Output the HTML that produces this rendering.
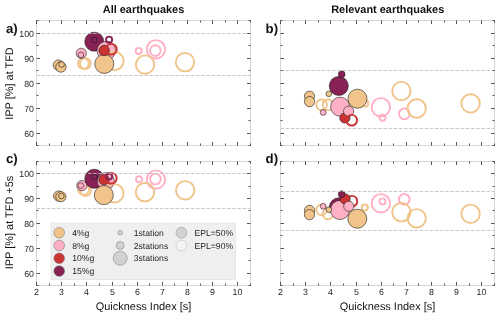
<!DOCTYPE html>
<html lang="en"><head><meta charset="utf-8"><title>IPP vs Quickness Index</title>
<style>html,body{margin:0;padding:0;background:#fff;}body{width:500px;height:317px;overflow:hidden;}svg{display:block;font-family:"Liberation Sans", Arial, Helvetica, sans-serif;will-change:transform;text-rendering:geometricPrecision;}.tk{font-size:8.8px;fill:#262626;}.lb{font-size:10.95px;fill:#111;}.ti{font-size:10.95px;font-weight:bold;fill:#111;}.pn{font-size:13.2px;font-weight:bold;fill:#111;}.lg{font-size:8.6px;fill:#262626;}</style></head><body>
<svg width="500" height="317" viewBox="0 0 500 317">
<rect x="0" y="0" width="500" height="317" fill="#ffffff"/>
<g id="panel-a">
<circle cx="58.30" cy="65.10" r="5.12" fill="#F0C48A" stroke="#1c1c1c" stroke-width="0.6"/>
<circle cx="60.90" cy="67.00" r="5.22" fill="#F0C48A" stroke="#1c1c1c" stroke-width="0.6"/>
<circle cx="61.60" cy="64.50" r="2.82" fill="#F0C48A" stroke="#1c1c1c" stroke-width="0.6"/>
<circle cx="83.40" cy="63.50" r="5.40" fill="none" stroke="#F0C48A" stroke-width="1.9"/>
<circle cx="85.40" cy="63.50" r="5.40" fill="none" stroke="#F0C48A" stroke-width="1.9"/>
<circle cx="81.30" cy="53.30" r="5.12" fill="#FFB0C4" stroke="#1c1c1c" stroke-width="0.6"/>
<circle cx="80.90" cy="54.90" r="2.82" fill="#FFB0C4" stroke="#1c1c1c" stroke-width="0.6"/>
<circle cx="94.30" cy="41.70" r="9.52" fill="#882255" stroke="#1c1c1c" stroke-width="0.6"/>
<circle cx="94.30" cy="40.10" r="2.82" fill="#882255" stroke="#1c1c1c" stroke-width="0.6"/>
<circle cx="106.30" cy="50.60" r="9.32" fill="#FFB0C4" stroke="#1c1c1c" stroke-width="0.6"/>
<circle cx="114.40" cy="61.00" r="9.20" fill="none" stroke="#F0C48A" stroke-width="1.9"/>
<circle cx="104.30" cy="63.90" r="9.52" fill="#F0C48A" stroke="#1c1c1c" stroke-width="0.6"/>
<circle cx="104.15" cy="50.45" r="5.22" fill="#CC3333" stroke="#1c1c1c" stroke-width="0.6"/>
<circle cx="111.40" cy="49.20" r="5.35" fill="none" stroke="#CC3333" stroke-width="1.9"/>
<circle cx="109.10" cy="39.70" r="3.05" fill="none" stroke="#882255" stroke-width="1.9"/>
<circle cx="138.70" cy="50.90" r="3.05" fill="none" stroke="#FFB0C4" stroke-width="1.9"/>
<circle cx="155.90" cy="49.30" r="9.20" fill="none" stroke="#FFB0C4" stroke-width="1.9"/>
<circle cx="155.30" cy="50.60" r="5.35" fill="none" stroke="#FFB0C4" stroke-width="1.9"/>
<circle cx="145.10" cy="64.60" r="9.20" fill="none" stroke="#F0C48A" stroke-width="1.9"/>
<circle cx="185.00" cy="62.20" r="9.20" fill="none" stroke="#F0C48A" stroke-width="1.9"/>
<line x1="36.5" x2="250.5" y1="33.5" y2="33.5" stroke="#bebebe" stroke-opacity="0.85" stroke-width="1" stroke-dasharray="3.5 1.65"/>
<line x1="36.5" x2="250.5" y1="75.5" y2="75.5" stroke="#bebebe" stroke-opacity="0.85" stroke-width="1" stroke-dasharray="3.5 1.65"/>
<rect x="36.5" y="20.5" width="214.0" height="125.0" fill="none" stroke="#d6d6d6" stroke-width="1"/>
<path d="M36.5 145.5v-3.5M36.5 20.5v3.5M49.5 145.5v-2.0M49.5 20.5v2.0M61.5 145.5v-3.5M61.5 20.5v3.5M74.5 145.5v-2.0M74.5 20.5v2.0M86.5 145.5v-3.5M86.5 20.5v3.5M99.5 145.5v-2.0M99.5 20.5v2.0M112.5 145.5v-3.5M112.5 20.5v3.5M124.5 145.5v-2.0M124.5 20.5v2.0M137.5 145.5v-3.5M137.5 20.5v3.5M149.5 145.5v-2.0M149.5 20.5v2.0M162.5 145.5v-3.5M162.5 20.5v3.5M174.5 145.5v-2.0M174.5 20.5v2.0M187.5 145.5v-3.5M187.5 20.5v3.5M200.5 145.5v-2.0M200.5 20.5v2.0M212.5 145.5v-3.5M212.5 20.5v3.5M225.5 145.5v-2.0M225.5 20.5v2.0M237.5 145.5v-3.5M237.5 20.5v3.5M250.5 145.5v-2.0M250.5 20.5v2.0M36.5 145.5h2.0M250.5 145.5h-2.0M36.5 133.5h3.5M250.5 133.5h-3.5M36.5 120.5h2.0M250.5 120.5h-2.0M36.5 108.5h3.5M250.5 108.5h-3.5M36.5 95.5h2.0M250.5 95.5h-2.0M36.5 83.5h3.5M250.5 83.5h-3.5M36.5 70.5h2.0M250.5 70.5h-2.0M36.5 58.5h3.5M250.5 58.5h-3.5M36.5 45.5h2.0M250.5 45.5h-2.0M36.5 33.5h3.5M250.5 33.5h-3.5M36.5 20.5h2.0M250.5 20.5h-2.0" stroke="#404040" stroke-width="0.9" fill="none"/>
<text class="tk" x="34.0" y="36.75" text-anchor="end">100</text>
<text class="tk" x="34.0" y="61.75" text-anchor="end">90</text>
<text class="tk" x="34.0" y="86.75" text-anchor="end">80</text>
<text class="tk" x="34.0" y="111.75" text-anchor="end">70</text>
<text class="tk" x="34.0" y="136.75" text-anchor="end">60</text>
</g>
<g id="panel-b">
<circle cx="309.50" cy="96.20" r="5.12" fill="#F0C48A" stroke="#1c1c1c" stroke-width="0.6"/>
<circle cx="309.50" cy="101.60" r="5.12" fill="#F0C48A" stroke="#1c1c1c" stroke-width="0.6"/>
<circle cx="321.60" cy="104.80" r="5.35" fill="none" stroke="#F0C48A" stroke-width="1.9"/>
<circle cx="328.00" cy="104.80" r="5.35" fill="none" stroke="#F0C48A" stroke-width="1.9"/>
<circle cx="328.80" cy="93.80" r="2.82" fill="#F0C48A" stroke="#1c1c1c" stroke-width="0.6"/>
<circle cx="338.80" cy="85.90" r="9.52" fill="#882255" stroke="#1c1c1c" stroke-width="0.6"/>
<circle cx="341.70" cy="74.30" r="3.37" fill="#882255" stroke="#1c1c1c" stroke-width="0.6"/>
<circle cx="340.10" cy="106.70" r="9.52" fill="#FFB0C4" stroke="#1c1c1c" stroke-width="0.6"/>
<circle cx="344.90" cy="118.00" r="5.12" fill="#CC3333" stroke="#1c1c1c" stroke-width="0.6"/>
<circle cx="348.60" cy="111.20" r="5.12" fill="#FFB0C4" stroke="#1c1c1c" stroke-width="0.6"/>
<circle cx="351.70" cy="120.20" r="5.35" fill="none" stroke="#CC3333" stroke-width="1.9"/>
<circle cx="323.20" cy="112.40" r="2.92" fill="#FFB0C4" stroke="#1c1c1c" stroke-width="0.6"/>
<circle cx="365.30" cy="103.50" r="3.05" fill="none" stroke="#F0C48A" stroke-width="1.9"/>
<circle cx="357.50" cy="98.70" r="9.52" fill="#F0C48A" stroke="#1c1c1c" stroke-width="0.6"/>
<circle cx="380.90" cy="107.30" r="9.20" fill="none" stroke="#FFB0C4" stroke-width="1.9"/>
<circle cx="382.50" cy="117.70" r="3.05" fill="none" stroke="#FFB0C4" stroke-width="1.9"/>
<circle cx="404.30" cy="113.80" r="5.35" fill="none" stroke="#FFB0C4" stroke-width="1.9"/>
<circle cx="401.40" cy="91.10" r="9.20" fill="none" stroke="#F0C48A" stroke-width="1.9"/>
<circle cx="416.70" cy="108.50" r="9.20" fill="none" stroke="#F0C48A" stroke-width="1.9"/>
<circle cx="470.60" cy="103.40" r="9.20" fill="none" stroke="#F0C48A" stroke-width="1.9"/>
<line x1="280.5" x2="494.5" y1="70.5" y2="70.5" stroke="#bebebe" stroke-opacity="0.85" stroke-width="1" stroke-dasharray="3.5 1.65"/>
<line x1="280.5" x2="494.5" y1="128.5" y2="128.5" stroke="#bebebe" stroke-opacity="0.85" stroke-width="1" stroke-dasharray="3.5 1.65"/>
<rect x="280.5" y="20.5" width="214.0" height="125.0" fill="none" stroke="#d6d6d6" stroke-width="1"/>
<path d="M280.5 145.5v-3.5M280.5 20.5v3.5M293.5 145.5v-2.0M293.5 20.5v2.0M305.5 145.5v-3.5M305.5 20.5v3.5M318.5 145.5v-2.0M318.5 20.5v2.0M330.5 145.5v-3.5M330.5 20.5v3.5M343.5 145.5v-2.0M343.5 20.5v2.0M356.5 145.5v-3.5M356.5 20.5v3.5M368.5 145.5v-2.0M368.5 20.5v2.0M381.5 145.5v-3.5M381.5 20.5v3.5M393.5 145.5v-2.0M393.5 20.5v2.0M406.5 145.5v-3.5M406.5 20.5v3.5M418.5 145.5v-2.0M418.5 20.5v2.0M431.5 145.5v-3.5M431.5 20.5v3.5M444.5 145.5v-2.0M444.5 20.5v2.0M456.5 145.5v-3.5M456.5 20.5v3.5M469.5 145.5v-2.0M469.5 20.5v2.0M481.5 145.5v-3.5M481.5 20.5v3.5M494.5 145.5v-2.0M494.5 20.5v2.0M280.5 145.5h2.0M494.5 145.5h-2.0M280.5 133.5h3.5M494.5 133.5h-3.5M280.5 120.5h2.0M494.5 120.5h-2.0M280.5 108.5h3.5M494.5 108.5h-3.5M280.5 95.5h2.0M494.5 95.5h-2.0M280.5 83.5h3.5M494.5 83.5h-3.5M280.5 70.5h2.0M494.5 70.5h-2.0M280.5 58.5h3.5M494.5 58.5h-3.5M280.5 45.5h2.0M494.5 45.5h-2.0M280.5 33.5h3.5M494.5 33.5h-3.5M280.5 20.5h2.0M494.5 20.5h-2.0" stroke="#404040" stroke-width="0.9" fill="none"/>
</g>
<g id="panel-c">
<circle cx="58.60" cy="196.00" r="5.12" fill="#F0C48A" stroke="#1c1c1c" stroke-width="0.6"/>
<circle cx="60.90" cy="196.70" r="5.12" fill="#F0C48A" stroke="#1c1c1c" stroke-width="0.6"/>
<circle cx="61.40" cy="196.00" r="2.82" fill="#F0C48A" stroke="#1c1c1c" stroke-width="0.6"/>
<circle cx="83.60" cy="189.60" r="5.40" fill="none" stroke="#F0C48A" stroke-width="1.9"/>
<circle cx="85.70" cy="190.60" r="5.40" fill="none" stroke="#F0C48A" stroke-width="1.9"/>
<circle cx="81.80" cy="185.60" r="5.12" fill="#FFB0C4" stroke="#1c1c1c" stroke-width="0.6"/>
<circle cx="80.80" cy="185.60" r="2.82" fill="#FFB0C4" stroke="#1c1c1c" stroke-width="0.6"/>
<circle cx="94.30" cy="178.70" r="9.52" fill="#882255" stroke="#1c1c1c" stroke-width="0.6"/>
<circle cx="94.30" cy="176.90" r="2.82" fill="#882255" stroke="#1c1c1c" stroke-width="0.6"/>
<circle cx="105.90" cy="181.20" r="8.52" fill="#FFB0C4" stroke="#1c1c1c" stroke-width="0.6"/>
<circle cx="114.40" cy="193.30" r="9.20" fill="none" stroke="#F0C48A" stroke-width="1.9"/>
<circle cx="103.80" cy="195.10" r="9.52" fill="#F0C48A" stroke="#1c1c1c" stroke-width="0.6"/>
<circle cx="104.00" cy="179.70" r="5.12" fill="#CC3333" stroke="#1c1c1c" stroke-width="0.6"/>
<circle cx="111.30" cy="178.20" r="5.35" fill="none" stroke="#CC3333" stroke-width="1.9"/>
<circle cx="109.10" cy="176.60" r="3.05" fill="none" stroke="#882255" stroke-width="1.9"/>
<circle cx="139.00" cy="179.30" r="3.05" fill="none" stroke="#FFB0C4" stroke-width="1.9"/>
<circle cx="155.90" cy="179.60" r="9.20" fill="none" stroke="#FFB0C4" stroke-width="1.9"/>
<circle cx="155.40" cy="179.00" r="5.35" fill="none" stroke="#FFB0C4" stroke-width="1.9"/>
<circle cx="145.00" cy="192.20" r="9.20" fill="none" stroke="#F0C48A" stroke-width="1.9"/>
<circle cx="185.20" cy="190.30" r="9.20" fill="none" stroke="#F0C48A" stroke-width="1.9"/>
<line x1="36.5" x2="250.5" y1="173.5" y2="173.5" stroke="#bebebe" stroke-opacity="0.85" stroke-width="1" stroke-dasharray="3.5 1.65"/>
<line x1="36.5" x2="250.5" y1="208.5" y2="208.5" stroke="#bebebe" stroke-opacity="0.85" stroke-width="1" stroke-dasharray="3.5 1.65"/>
<rect x="36.5" y="161.5" width="214.0" height="124.0" fill="none" stroke="#d6d6d6" stroke-width="1"/>
<path d="M36.5 285.5v-3.5M36.5 161.5v3.5M49.5 285.5v-2.0M49.5 161.5v2.0M61.5 285.5v-3.5M61.5 161.5v3.5M74.5 285.5v-2.0M74.5 161.5v2.0M86.5 285.5v-3.5M86.5 161.5v3.5M99.5 285.5v-2.0M99.5 161.5v2.0M112.5 285.5v-3.5M112.5 161.5v3.5M124.5 285.5v-2.0M124.5 161.5v2.0M137.5 285.5v-3.5M137.5 161.5v3.5M149.5 285.5v-2.0M149.5 161.5v2.0M162.5 285.5v-3.5M162.5 161.5v3.5M174.5 285.5v-2.0M174.5 161.5v2.0M187.5 285.5v-3.5M187.5 161.5v3.5M200.5 285.5v-2.0M200.5 161.5v2.0M212.5 285.5v-3.5M212.5 161.5v3.5M225.5 285.5v-2.0M225.5 161.5v2.0M237.5 285.5v-3.5M237.5 161.5v3.5M250.5 285.5v-2.0M250.5 161.5v2.0M36.5 285.5h2.0M250.5 285.5h-2.0M36.5 273.5h3.5M250.5 273.5h-3.5M36.5 260.5h2.0M250.5 260.5h-2.0M36.5 248.5h3.5M250.5 248.5h-3.5M36.5 235.5h2.0M250.5 235.5h-2.0M36.5 223.5h3.5M250.5 223.5h-3.5M36.5 210.5h2.0M250.5 210.5h-2.0M36.5 198.5h3.5M250.5 198.5h-3.5M36.5 186.5h2.0M250.5 186.5h-2.0M36.5 173.5h3.5M250.5 173.5h-3.5M36.5 161.5h2.0M250.5 161.5h-2.0" stroke="#404040" stroke-width="0.9" fill="none"/>
<text class="tk" x="34.0" y="176.75" text-anchor="end">100</text>
<text class="tk" x="34.0" y="201.75" text-anchor="end">90</text>
<text class="tk" x="34.0" y="226.75" text-anchor="end">80</text>
<text class="tk" x="34.0" y="251.75" text-anchor="end">70</text>
<text class="tk" x="34.0" y="276.75" text-anchor="end">60</text>
<text class="tk" x="36.50" y="295.4" text-anchor="middle">2</text>
<text class="tk" x="61.50" y="295.4" text-anchor="middle">3</text>
<text class="tk" x="86.50" y="295.4" text-anchor="middle">4</text>
<text class="tk" x="112.50" y="295.4" text-anchor="middle">5</text>
<text class="tk" x="137.50" y="295.4" text-anchor="middle">6</text>
<text class="tk" x="162.50" y="295.4" text-anchor="middle">7</text>
<text class="tk" x="187.50" y="295.4" text-anchor="middle">8</text>
<text class="tk" x="212.50" y="295.4" text-anchor="middle">9</text>
<text class="tk" x="237.50" y="295.4" text-anchor="middle">10</text>
</g>
<g id="panel-d">
<circle cx="309.50" cy="210.40" r="5.12" fill="#F0C48A" stroke="#1c1c1c" stroke-width="0.6"/>
<circle cx="309.50" cy="214.70" r="5.12" fill="#F0C48A" stroke="#1c1c1c" stroke-width="0.6"/>
<circle cx="321.60" cy="209.90" r="5.35" fill="none" stroke="#F0C48A" stroke-width="1.9"/>
<circle cx="328.00" cy="213.90" r="5.35" fill="none" stroke="#F0C48A" stroke-width="1.9"/>
<circle cx="323.20" cy="206.30" r="2.92" fill="#FFB0C4" stroke="#1c1c1c" stroke-width="0.6"/>
<circle cx="338.90" cy="207.30" r="9.52" fill="#882255" stroke="#1c1c1c" stroke-width="0.6"/>
<circle cx="339.90" cy="210.00" r="9.52" fill="#FFB0C4" stroke="#1c1c1c" stroke-width="0.6"/>
<circle cx="351.90" cy="201.20" r="5.35" fill="none" stroke="#CC3333" stroke-width="1.9"/>
<circle cx="345.10" cy="198.90" r="5.12" fill="#CC3333" stroke="#1c1c1c" stroke-width="0.6"/>
<circle cx="341.70" cy="194.20" r="3.37" fill="#882255" stroke="#1c1c1c" stroke-width="0.6"/>
<circle cx="348.80" cy="206.30" r="5.12" fill="#FFB0C4" stroke="#1c1c1c" stroke-width="0.6"/>
<circle cx="328.90" cy="209.70" r="2.82" fill="#F0C48A" stroke="#1c1c1c" stroke-width="0.6"/>
<circle cx="364.80" cy="207.60" r="3.05" fill="none" stroke="#F0C48A" stroke-width="1.9"/>
<circle cx="357.30" cy="218.70" r="9.52" fill="#F0C48A" stroke="#1c1c1c" stroke-width="0.6"/>
<circle cx="380.90" cy="203.30" r="9.20" fill="none" stroke="#FFB0C4" stroke-width="1.9"/>
<circle cx="382.50" cy="201.40" r="3.05" fill="none" stroke="#FFB0C4" stroke-width="1.9"/>
<circle cx="404.30" cy="199.30" r="5.35" fill="none" stroke="#FFB0C4" stroke-width="1.9"/>
<circle cx="401.40" cy="212.20" r="9.20" fill="none" stroke="#F0C48A" stroke-width="1.9"/>
<circle cx="416.70" cy="218.30" r="9.20" fill="none" stroke="#F0C48A" stroke-width="1.9"/>
<circle cx="470.60" cy="213.80" r="9.20" fill="none" stroke="#F0C48A" stroke-width="1.9"/>
<line x1="280.5" x2="494.5" y1="191.5" y2="191.5" stroke="#bebebe" stroke-opacity="0.85" stroke-width="1" stroke-dasharray="3.5 1.65"/>
<line x1="280.5" x2="494.5" y1="230.5" y2="230.5" stroke="#bebebe" stroke-opacity="0.85" stroke-width="1" stroke-dasharray="3.5 1.65"/>
<rect x="280.5" y="161.5" width="214.0" height="124.0" fill="none" stroke="#d6d6d6" stroke-width="1"/>
<path d="M280.5 285.5v-3.5M280.5 161.5v3.5M293.5 285.5v-2.0M293.5 161.5v2.0M305.5 285.5v-3.5M305.5 161.5v3.5M318.5 285.5v-2.0M318.5 161.5v2.0M330.5 285.5v-3.5M330.5 161.5v3.5M343.5 285.5v-2.0M343.5 161.5v2.0M356.5 285.5v-3.5M356.5 161.5v3.5M368.5 285.5v-2.0M368.5 161.5v2.0M381.5 285.5v-3.5M381.5 161.5v3.5M393.5 285.5v-2.0M393.5 161.5v2.0M406.5 285.5v-3.5M406.5 161.5v3.5M418.5 285.5v-2.0M418.5 161.5v2.0M431.5 285.5v-3.5M431.5 161.5v3.5M444.5 285.5v-2.0M444.5 161.5v2.0M456.5 285.5v-3.5M456.5 161.5v3.5M469.5 285.5v-2.0M469.5 161.5v2.0M481.5 285.5v-3.5M481.5 161.5v3.5M494.5 285.5v-2.0M494.5 161.5v2.0M280.5 285.5h2.0M494.5 285.5h-2.0M280.5 273.5h3.5M494.5 273.5h-3.5M280.5 260.5h2.0M494.5 260.5h-2.0M280.5 248.5h3.5M494.5 248.5h-3.5M280.5 235.5h2.0M494.5 235.5h-2.0M280.5 223.5h3.5M494.5 223.5h-3.5M280.5 210.5h2.0M494.5 210.5h-2.0M280.5 198.5h3.5M494.5 198.5h-3.5M280.5 186.5h2.0M494.5 186.5h-2.0M280.5 173.5h3.5M494.5 173.5h-3.5M280.5 161.5h2.0M494.5 161.5h-2.0" stroke="#404040" stroke-width="0.9" fill="none"/>
<text class="tk" x="280.50" y="295.4" text-anchor="middle">2</text>
<text class="tk" x="305.50" y="295.4" text-anchor="middle">3</text>
<text class="tk" x="330.50" y="295.4" text-anchor="middle">4</text>
<text class="tk" x="356.50" y="295.4" text-anchor="middle">5</text>
<text class="tk" x="381.50" y="295.4" text-anchor="middle">6</text>
<text class="tk" x="406.50" y="295.4" text-anchor="middle">7</text>
<text class="tk" x="431.50" y="295.4" text-anchor="middle">8</text>
<text class="tk" x="456.50" y="295.4" text-anchor="middle">9</text>
<text class="tk" x="481.50" y="295.4" text-anchor="middle">10</text>
</g>
<text class="ti" x="143.5" y="13.2" text-anchor="middle">All earthquakes</text>
<text class="ti" x="387.7" y="13.2" text-anchor="middle">Relevant earthquakes</text>
<text class="lb" x="143.5" y="309.7" text-anchor="middle">Quickness Index [s]</text>
<text class="lb" x="387.5" y="309.7" text-anchor="middle">Quickness Index [s]</text>
<text class="lb" transform="translate(12.9 83.5) rotate(-90)" text-anchor="middle">IPP [%] at TFD</text>
<text class="lb" transform="translate(12.9 222.5) rotate(-90)" text-anchor="middle">IPP [%] at TFD +5s</text>
<text class="pn" x="5.9" y="32.8">a)</text>
<text class="pn" x="265.6" y="32.8">b)</text>
<text class="pn" x="5.9" y="163.1">c)</text>
<text class="pn" x="265.6" y="163.1">d)</text>
<g id="legend">
<rect x="51" y="223" width="184.6" height="56.6" fill="#efefef" stroke="#dcdcdc" stroke-width="0.6"/>
<circle cx="59.2" cy="232.7" r="5.3" fill="#F0C48A" stroke="#666" stroke-width="0.5"/>
<text class="lg" x="72.2" y="235.8">4%g</text>
<circle cx="59.2" cy="245.5" r="5.3" fill="#FFB0C4" stroke="#666" stroke-width="0.5"/>
<text class="lg" x="72.2" y="248.6">8%g</text>
<circle cx="59.2" cy="258.2" r="5.3" fill="#CC3333" stroke="#666" stroke-width="0.5"/>
<text class="lg" x="72.2" y="261.3">10%g</text>
<circle cx="59.2" cy="271.0" r="5.3" fill="#882255" stroke="#666" stroke-width="0.5"/>
<text class="lg" x="72.2" y="274.1">15%g</text>
<circle cx="120.2" cy="232.7" r="2.3" fill="#d2d2d2" stroke="#777" stroke-width="0.5"/>
<text class="lg" x="133.8" y="235.8">1station</text>
<circle cx="120.2" cy="245.5" r="4.0" fill="#d2d2d2" stroke="#777" stroke-width="0.5"/>
<text class="lg" x="133.8" y="248.6">2stations</text>
<circle cx="120.2" cy="258.2" r="7.0" fill="#d2d2d2" stroke="#777" stroke-width="0.5"/>
<text class="lg" x="133.8" y="261.3">3stations</text>
<circle cx="181.4" cy="232.7" r="5.4" fill="#d2d2d2" stroke="#888" stroke-width="0.5"/>
<text class="lg" x="194.6" y="235.8">EPL=50%</text>
<circle cx="181.4" cy="245.5" r="5.4" fill="#f3f3f3" stroke="#c6c6c6" stroke-width="0.7"/>
<text class="lg" x="194.6" y="248.6">EPL=90%</text>
</g>
</svg></body></html>
